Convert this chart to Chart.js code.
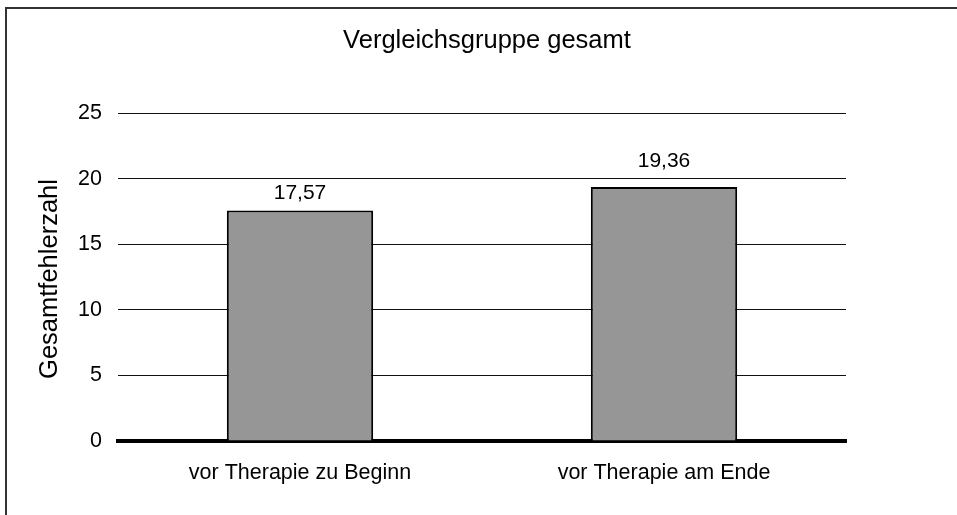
<!DOCTYPE html>
<html>
<head>
<meta charset="utf-8">
<script src="https://cdn.jsdelivr.net/npm/chart.js@4"></script>
<style>
  html, body { margin: 0; padding: 0; background: #fff; }
  #wrap { width: 957px; height: 515px; }
</style>
</head>
<body>
<div id="wrap"><canvas id="grafico" width="957" height="515"></canvas></div>
<script>
// Daten aus der Vorlage
const kategorien = ['vor Therapie zu Beginn', 'vor Therapie am Ende'];
const werte = [17.57, 19.36];
const yTicks = [0, 5, 10, 15, 20, 25];
const titel = 'Vergleichsgruppe gesamt';
const yTitel = 'Gesamtfehlerzahl';

const schrift = '"Liberation Sans", Arial, sans-serif';

// Rahmen, Titel, Achsentitel und Werte über den Balken
const extras = {
    id: 'extras',
    beforeDraw(chart) {
        const ctx = chart.ctx;
        ctx.save();
        ctx.fillStyle = '#fff';
        ctx.fillRect(0, 0, chart.width, chart.height);
        ctx.strokeStyle = '#333';
        ctx.lineWidth = 2;
        ctx.strokeRect(6, 8, 1000, 600);
        ctx.restore();
    },
    afterDatasetsDraw(chart) {
        const ctx = chart.ctx;
        ctx.save();
        ctx.fillStyle = '#000';
        ctx.textAlign = 'center';
        ctx.textBaseline = 'alphabetic';

        // Diagrammtitel
        ctx.font = '25.5px ' + schrift;
        ctx.fillText(titel, 487, 48);

        // Y-Achsentitel
        ctx.save();
        ctx.translate(57, 279);
        ctx.rotate(-Math.PI / 2);
        ctx.font = '25.5px ' + schrift;
        ctx.fillText(yTitel, 0, 0);
        ctx.restore();

        // Werte über den Balken (deutsches Komma)
        const abstand = [11, 20];
        ctx.font = '21px ' + schrift;
        chart.getDatasetMeta(0).data.forEach((bar, i) => {
            const text = werte[i].toFixed(2).replace('.', ',');
            ctx.fillText(text, bar.x, bar.y - abstand[i]);
        });
        ctx.restore();
    }
};

const ctx = document.getElementById('grafico').getContext('2d');
const myChart = new Chart(ctx, {
    type: 'bar',
    data: {
        labels: kategorien,
        datasets: [{
            data: werte,
            backgroundColor: '#969696',
            borderColor: '#000',
            borderWidth: 2,
            barPercentage: 0.402,
            categoryPercentage: 1
        }]
    },
    options: {
        responsive: false,
        animation: false,
        devicePixelRatio: 1,
        layout: { padding: { top: 113, right: 111, left: 0, bottom: 0 } },
        plugins: {
            legend: { display: false },
            tooltip: { enabled: false },
            title: { display: false }
        },
        scales: {
            x: {
                grid: { display: false, drawTicks: false },
                border: { color: '#000', width: 4 },
                ticks: { color: '#000', font: { family: schrift, size: 21.5 }, padding: 19, maxRotation: 0 },
                afterFit(scale) { scale.height = 515 - 441; }
            },
            y: {
                min: 0,
                max: 25,
                afterBuildTicks(scale) { scale.ticks = yTicks.map(v => ({ value: v })); },
                grid: { color: '#111', lineWidth: 1, drawTicks: false },
                border: { display: false },
                ticks: { color: '#000', font: { family: schrift, size: 21.5 }, padding: 16 },
                afterFit(scale) { scale.width = 118; }
            }
        }
    },
    plugins: [extras]
});
</script>
</body>
</html>
